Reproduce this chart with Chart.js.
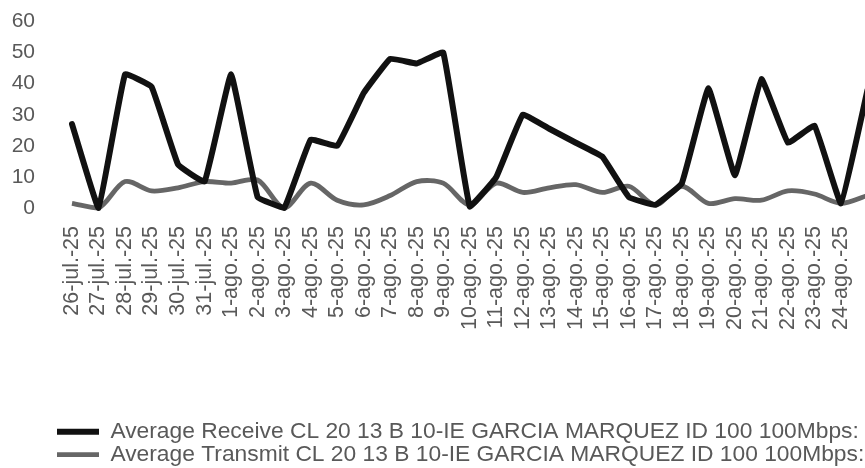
<!DOCTYPE html>
<html>
<head>
<meta charset="utf-8">
<script src="https://cdn.jsdelivr.net/npm/chart.js@4/dist/chart.umd.min.js"></script>
<style>
  html, body { margin: 0; padding: 0; background: #fff; overflow: hidden; }
  /* the scan cuts the chart off on the right and at the bottom */
  #wrap { position: relative; width: 896.3px; height: 476px; }
</style>
</head>
<body>
<div id="wrap"><canvas id="traffic-chart"></canvas></div>
<script>
// --- Data ---
const xLabels = [
    '26-jul.-25', '27-jul.-25', '28-jul.-25', '29-jul.-25', '30-jul.-25', '31-jul.-25',
    '1-ago.-25', '2-ago.-25', '3-ago.-25', '4-ago.-25', '5-ago.-25', '6-ago.-25',
    '7-ago.-25', '8-ago.-25', '9-ago.-25', '10-ago.-25', '11-ago.-25', '12-ago.-25',
    '13-ago.-25', '14-ago.-25', '15-ago.-25', '16-ago.-25', '17-ago.-25', '18-ago.-25',
    '19-ago.-25', '20-ago.-25', '21-ago.-25', '22-ago.-25', '23-ago.-25', '24-ago.-25',
    '25-ago.-25'
];
const receiveValues = [
    27, 0, 43, 39, 14, 8.5, 43, 3.5, 0, 22, 20, 37, 48, 46.5, 50, 0.5,
    10, 30, 25.5, 21, 16.5, 3.5, 1, 8, 38.5, 10.5, 41.5, 21, 26.5, 1.5, 38
];
const transmitValues = [
    1.5, 0, 8.5, 5.5, 6.5, 8.5, 8, 9, 0, 8, 2.5, 1, 4, 8.5, 8, 1,
    8, 5, 6.5, 7.5, 5, 7, 1, 7, 1.5, 3, 2.5, 5.5, 4.5, 1.5, 4
];
const seriesNames = [
    'Average Receive CL 20 13 B 10-IE GARCIA MARQUEZ ID 100 100Mbps:',
    'Average Transmit CL 20 13 B 10-IE GARCIA MARQUEZ ID 100 100Mbps:'
];
const yTicks = [0, 10, 20, 30, 40, 50, 60];

const labelColor = '#595959';
const fontFamily = "'Liberation Sans', Arial, sans-serif";
const lastIndex = xLabels.length - 1;

// legend rows start a little in from the left edge, like the original
const legendIndent = {
    id: 'legendIndent',
    afterLayout(chart) { chart.legend.left = 57; }
};

const ctx = document.getElementById('traffic-chart').getContext('2d');

new Chart(ctx, {
    type: 'line',
    data: {
        labels: xLabels,
        datasets: [
            {
                label: seriesNames[0],
                data: receiveValues,
                borderColor: '#111111',
                backgroundColor: '#111111',
                borderWidth: 6,
                tension: 0.08,
                borderJoinStyle: 'round',
                borderCapStyle: 'round',
                pointRadius: 0,
                clip: false,
            },
            {
                label: seriesNames[1],
                data: transmitValues,
                borderColor: '#666666',
                backgroundColor: '#666666',
                borderWidth: 4.8,
                tension: 0.3,
                borderJoinStyle: 'round',
                pointRadius: 0,
                clip: false,
            }
        ]
    },
    options: {
        responsive: true,
        maintainAspectRatio: false,
        animation: false,
        layout: { padding: { top: 21.5, left: 0, right: 28.8, bottom: 0 } },
        scales: {
            x: {
                grid: { display: false, drawTicks: true, tickLength: 15 },
                border: { display: false },
                ticks: {
                    autoSkip: false,
                    minRotation: 90,
                    maxRotation: 90,
                    padding: 3,
                    color: labelColor,
                    font: { family: fontFamily, size: 21.5 },
                    // the last day's label is lost past the cut edge
                    callback: (value, index) => index < lastIndex ? xLabels[index] : ''
                },
                afterFit: scale => { scale.height = 212.4; }
            },
            y: {
                min: yTicks[0],
                max: yTicks[yTicks.length - 1],
                grid: { display: false, drawTicks: true, tickLength: 34 },
                border: { display: false },
                ticks: {
                    stepSize: 10,
                    autoSkip: false,
                    padding: 3,
                    color: labelColor,
                    font: { family: fontFamily, size: 21 }
                },
                afterFit: scale => { scale.width = 72; }
            }
        },
        plugins: {
            legend: {
                position: 'bottom',
                align: 'start',
                labels: {
                    usePointStyle: true,
                    pointStyle: 'line',
                    pointStyleWidth: 42,
                    padding: 0,
                    color: labelColor,
                    font: { family: fontFamily, size: 22.8 }
                }
            },
            tooltip: { enabled: false }
        }
    },
    plugins: [legendIndent]
});
</script>
</body>
</html>
